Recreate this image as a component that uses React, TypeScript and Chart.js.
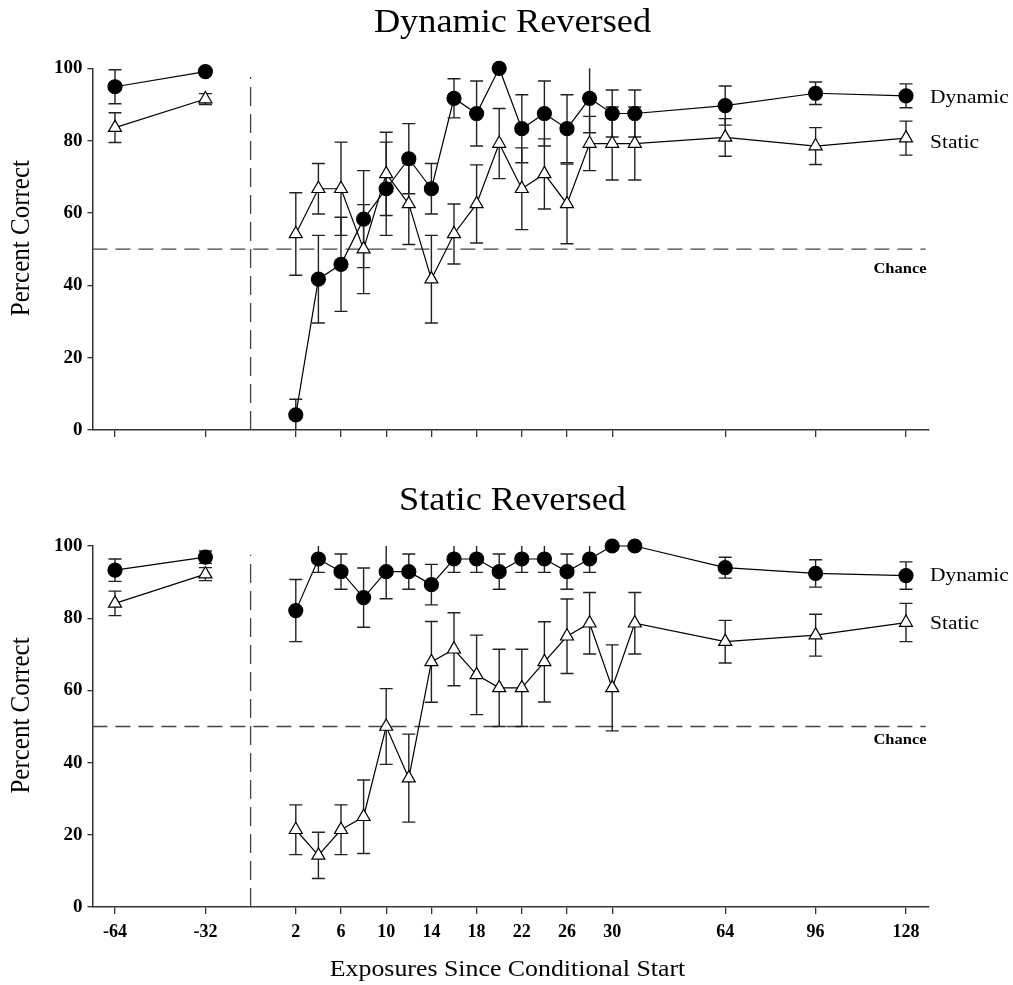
import React, { useEffect, useRef } from 'react';
import { Chart, registerables } from 'chart.js';

Chart.register(...registerables);

// ---------------- data ----------------
const exposures = [-64, -32, 2, 4, 6, 8, 10, 12, 14, 16, 18, 20, 22, 24, 26, 28, 30, 32, 64, 96, 128];
const tickExposures = [-64, -32, 2, 6, 10, 14, 18, 22, 26, 30, 64, 96, 128];

// Panel 1: "Dynamic Reversed"
const dynRevDynamic = [94.9, 99.1, 4.2, 41.7, 45.8, 58.3, 66.7, 75.0, 66.7, 91.7, 87.5, 100, 83.3, 87.5, 83.3, 91.7, 87.5, 87.5, 89.7, 93.1, 92.4];
const dynRevDynamicErr = [4.7, 1.0, 4.3, 12.1, 13.0, 13.4, 12.9, 9.7, 7.0, 5.4, 9.0, 0, 9.4, 9.0, 9.4, 9.5, 6.5, 6.5, 5.4, 3.1, 3.3];
const dynRevStatic = [83.6, 91.5, 54.2, 66.7, 66.7, 50.0, 70.8, 62.5, 41.7, 54.2, 62.5, 79.2, 66.7, 70.8, 62.5, 79.2, 79.2, 79.2, 80.9, 78.5, 80.7];
const dynRevStaticErr = [4.1, 1.5, 11.4, 7.0, 12.9, 12.3, 11.5, 11.2, 12.1, 8.3, 10.8, 9.7, 11.3, 9.7, 11.0, 7.5, 10.1, 10.1, 5.2, 5.1, 4.7];

// Panel 2: "Static Reversed"
const statRevDynamic = [93.3, 96.9, 82.1, 96.4, 92.9, 85.7, 92.9, 92.9, 89.3, 96.4, 96.4, 92.9, 96.4, 96.4, 92.9, 96.4, 100, 100, 94.0, 92.4, 91.8];
const statRevDynamicErr = [3.1, 1.7, 8.6, 3.7, 4.9, 8.2, 7.5, 4.9, 5.6, 3.7, 3.7, 4.9, 3.7, 3.7, 4.9, 3.7, 0, 0, 2.9, 3.8, 3.8];
const statRevStatic = [84.1, 92.2, 21.4, 14.3, 21.4, 25.0, 50.0, 35.7, 67.9, 71.4, 64.3, 60.7, 60.7, 67.9, 75.0, 78.6, 60.7, 78.6, 73.5, 75.3, 78.8];
const statRevStaticErr = [3.4, 1.8, 6.9, 6.4, 6.9, 10.2, 10.5, 12.2, 11.2, 10.1, 11.0, 10.7, 10.7, 11.1, 10.3, 8.5, 11.9, 8.5, 5.9, 5.8, 5.3];

const yTicks = [0, 20, 40, 60, 80, 100];
const chanceLevel = 50;
const seriesNames = ['Dynamic', 'Static'];
const panelTitles = ['Dynamic Reversed', 'Static Reversed'];
const xTitle = 'Exposures Since Conditional Start';
const yTitle = 'Percent Correct';
const chanceText = 'Chance';

// ---------------- axis mapping (non-linear exposure axis) ----------------
function axisPos(e: number): number {
  if (e < 0) return (e + 64) / 8;
  if (e <= 32) return 7 + e / 2;
  return 23 + (e - 32) / 8;
}
const dividerPos = (axisPos(-32) + axisPos(2)) / 2;

// ---------------- styles ----------------
const SERIF = '"Liberation Serif", "Times New Roman", Times, serif';
const INK = '#000';
const AXIS = '#333';
const SX = 1.1;
const W = 1013;
const PLOT_LEFT = 92.4;
const PLOT_RIGHT = 928.6;

type PanelCfg = {
  title: string;
  dyn: number[];
  dynErr: number[];
  stat: number[];
  statErr: number[];
  top: number;
  height: number;
  chartTop: number;
  chartBottom: number;
  titleBaseline: number;
  chanceOffset: number;
  showXLabels: boolean;
  labelValues: number[];
};

const panels: PanelCfg[] = [
  {
    title: panelTitles[0], dyn: dynRevDynamic, dynErr: dynRevDynamicErr, stat: dynRevStatic, statErr: dynRevStaticErr,
    top: 0, height: 480, chartTop: 68.3, chartBottom: 430, titleBaseline: 32, chanceOffset: 19.5, showXLabels: false,
    labelValues: [91.9, 79.4],
  },
  {
    title: panelTitles[1], dyn: statRevDynamic, dynErr: statRevDynamicErr, stat: statRevStatic, statErr: statRevStaticErr,
    top: 480, height: 505, chartTop: 66, chartBottom: 427, titleBaseline: 30, chanceOffset: 14, showXLabels: true,
    labelValues: [91.8, 78.4],
  },
];

function drawStretched(ctx: CanvasRenderingContext2D, text: string, x: number, y: number, font: string, align: CanvasTextAlign, baseline: CanvasTextBaseline, sx = SX) {
  ctx.save();
  ctx.translate(x, y);
  ctx.scale(sx, 1);
  ctx.font = font;
  ctx.textAlign = align;
  ctx.textBaseline = baseline;
  ctx.fillStyle = INK;
  ctx.fillText(text, 0, 0);
  ctx.restore();
}

function buildPoints(values: number[], pre: boolean) {
  const pts: { x: number; y: number }[] = [];
  exposures.forEach((e, i) => {
    if ((e < 0) === pre) pts.push({ x: axisPos(e), y: values[i] });
  });
  return pts;
}

function makeOverlay(cfg: PanelCfg) {
  return {
    id: 'overlay',
    beforeDatasetsDraw(chart: any) {
      const ctx: CanvasRenderingContext2D = chart.ctx;
      const xs = chart.scales.x;
      const ys = chart.scales.y;
      const area = chart.chartArea;
      ctx.save();
      // chance line
      ctx.strokeStyle = '#444';
      ctx.lineWidth = 1.3;
      ctx.setLineDash([15, 8]);
      const yc = ys.getPixelForValue(chanceLevel);
      ctx.beginPath();
      ctx.moveTo(area.left, yc);
      ctx.lineTo(area.right - 3, yc);
      ctx.stroke();
      // divider line
      ctx.setLineDash([19, 8]);
      const xd = xs.getPixelForValue(dividerPos);
      ctx.beginPath();
      ctx.moveTo(xd, ys.getPixelForValue(0));
      ctx.lineTo(xd, ys.getPixelForValue(97.6));
      ctx.stroke();
      ctx.setLineDash([]);
      // error bars
      ctx.strokeStyle = '#222';
      ctx.lineWidth = 1.4;
      const cap = 6.5;
      const drawErr = (vals: number[], errs: number[]) => {
        exposures.forEach((e, i) => {
          const err = errs[i];
          if (!err) return;
          const x = xs.getPixelForValue(axisPos(e));
          const hiV = vals[i] + err;
          const loV = vals[i] - err;
          const hi = ys.getPixelForValue(Math.min(100, hiV));
          const lo = ys.getPixelForValue(Math.max(0, loV));
          ctx.beginPath();
          ctx.moveTo(x, hi);
          ctx.lineTo(x, lo);
          if (hiV <= 100) {
            ctx.moveTo(x - cap, hi);
            ctx.lineTo(x + cap, hi);
          }
          if (loV >= 0) {
            ctx.moveTo(x - cap, lo);
            ctx.lineTo(x + cap, lo);
          }
          ctx.stroke();
        });
      };
      drawErr(cfg.stat, cfg.statErr);
      drawErr(cfg.dyn, cfg.dynErr);
      ctx.restore();
    },
    afterDraw(chart: any) {
      const ctx: CanvasRenderingContext2D = chart.ctx;
      const ys = chart.scales.y;
      const area = chart.chartArea;
      const cx = (area.left + area.right) / 2;
      drawStretched(ctx, cfg.title, cx + 2, cfg.titleBaseline, `33px ${SERIF}`, 'center', 'alphabetic');
      // y title
      ctx.save();
      ctx.translate(22, (area.top + area.bottom) / 2 - 11);
      ctx.rotate(-Math.PI / 2);
      ctx.scale(1, SX);
      ctx.font = `25px ${SERIF}`;
      ctx.textAlign = 'center';
      ctx.textBaseline = 'middle';
      ctx.fillStyle = INK;
      ctx.fillText(yTitle, 0, 0);
      ctx.restore();
      // series labels
      seriesNames.forEach((n, i) => {
        drawStretched(ctx, n, area.right + 1.5, ys.getPixelForValue(cfg.labelValues[i]), `19.5px ${SERIF}`, 'left', 'middle');
      });
      drawStretched(ctx, chanceText, area.right - 2, ys.getPixelForValue(chanceLevel) + cfg.chanceOffset, `bold 15px ${SERIF}`, 'right', 'middle');
      if (cfg.showXLabels) {
        drawStretched(ctx, xTitle, cx - 3, cfg.height - 15, `23.5px ${SERIF}`, 'center', 'middle');
      }
    },
  };
}

function Panel({ cfg }: { cfg: PanelCfg }) {
  const ref = useRef<HTMLCanvasElement>(null);
  useEffect(() => {
    const canvas = ref.current!;
    const datasets: any[] = [];
    const mk = (vals: number[], pre: boolean, isDyn: boolean) => ({
      label: isDyn ? seriesNames[0] : seriesNames[1],
      data: buildPoints(vals, pre),
      showLine: true,
      borderColor: INK,
      borderWidth: 1.2,
      backgroundColor: isDyn ? INK : '#fff',
      pointStyle: isDyn ? 'circle' : 'triangle',
      pointRadius: isDyn ? 7 : 7.5,
      pointBackgroundColor: isDyn ? INK : '#fff',
      pointBorderColor: INK,
      pointBorderWidth: 1.2,
      tension: 0,
      fill: false,
      clip: false,
    });
    datasets.push(mk(cfg.dyn, true, true), mk(cfg.dyn, false, true), mk(cfg.stat, true, false), mk(cfg.stat, false, false));
    const chart = new Chart(canvas, {
      type: 'scatter',
      data: { datasets },
      options: {
        responsive: false,
        animation: false,
        events: [],
        layout: { padding: { left: 0, right: W - PLOT_RIGHT, top: cfg.chartTop, bottom: 0 } },
        plugins: { legend: { display: false }, tooltip: { enabled: false }, title: { display: false } },
        scales: {
          x: {
            type: 'linear',
            min: -1,
            max: 36,
            afterBuildTicks: (s: any) => {
              s.ticks = tickExposures.map((e) => ({ value: axisPos(e) }));
            },
            afterFit: (s: any) => {
              s.height = cfg.height - cfg.chartBottom;
            },
            ticks: {
              autoSkip: false,
              maxRotation: 0,
              padding: 8,
              color: INK,
              font: { family: SERIF, size: 18, weight: 'bold' },
              callback: (_v: any, idx: number) => (cfg.showXLabels ? String(tickExposures[idx]) : ''),
            },
            grid: { drawOnChartArea: false, drawTicks: true, tickLength: 7, color: AXIS, lineWidth: 1.3 },
            border: { display: true, color: AXIS, width: 1.5 },
          },
          y: {
            type: 'linear',
            min: 0,
            max: 100,
            afterBuildTicks: (s: any) => {
              s.ticks = yTicks.map((v) => ({ value: v }));
            },
            afterFit: (s: any) => {
              s.width = PLOT_LEFT;
            },
            ticks: {
              padding: 5,
              color: INK,
              font: { family: SERIF, size: 19, weight: 'bold' },
            },
            grid: { drawOnChartArea: false, drawTicks: true, tickLength: 5, color: AXIS, lineWidth: 1.3 },
            border: { display: true, color: AXIS, width: 1.5 },
          },
        },
      },
      plugins: [makeOverlay(cfg)],
    } as any);
    return () => chart.destroy();
  }, [cfg]);
  return (
    <canvas
      ref={ref}
      width={W}
      height={cfg.height}
      style={{ position: 'absolute', left: 0, top: cfg.top, width: W, height: cfg.height, display: 'block' }}
    />
  );
}

export default function App() {
  return (
    <div style={{ position: 'fixed', left: 0, top: 0, width: W, height: 985, background: '#fff' }}>
      {panels.map((p, i) => (
        <Panel key={i} cfg={p} />
      ))}
    </div>
  );
}
